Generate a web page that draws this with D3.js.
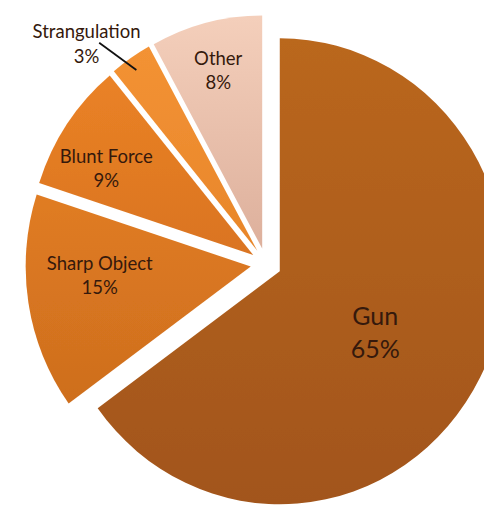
<!DOCTYPE html>
<html>
<head>
<meta charset="utf-8">
<script src="https://cdn.jsdelivr.net/npm/d3@7"></script>
<style>
  html, body { margin: 0; padding: 0; background: #ffffff; }
  svg { display: block; }
</style>
</head>
<body>
<div id="chart"></div>
<script>
// ---- data ----
const categories = ["Gun", "Sharp Object", "Blunt Force", "Strangulation", "Other"];
const values = [65, 15, 9, 3, 8];
const percentLabels = ["65%", "15%", "9%", "3%", "8%"];

// ---- styles / layout (not data) ----
const colorsTop    = ["#BA671F", "#E07C22", "#EA8226", "#F39234", "#F4CFBB"];
const colorsBottom = ["#A2551A", "#CE6E1E", "#DA7420", "#E8862A", "#DDB09C"];
const labelRadius  = [0.50, 0.672, 0.751, 1.168, 0.79];  // fraction of radius
const labelAngle   = [122, 266.7, 299.6, 319.5, 345.7];  // degrees, clockwise from 12 o'clock
const labelSize    = [25, 18.5, 18.5, 18.5, 18.5];

const W = 484, H = 508;
const cx = 266, cy = 264, R = 233, sx = 0.966, explode = 16;

const svg = d3.select("#chart").append("svg")
  .attr("width", W).attr("height", H);

const defs = svg.append("defs");
categories.forEach((c, i) => {
  const g = defs.append("linearGradient").attr("id", "g" + i)
    .attr("x1", 0).attr("y1", 0).attr("x2", 0).attr("y2", 1);
  g.append("stop").attr("offset", "0%").attr("stop-color", colorsTop[i]);
  g.append("stop").attr("offset", "100%").attr("stop-color", colorsBottom[i]);
});
const soft = defs.append("filter").attr("id", "soft")
  .attr("x", "-5%").attr("y", "-5%").attr("width", "110%").attr("height", "110%");
soft.append("feGaussianBlur").attr("stdDeviation", 0.7);

const pie = d3.pie().sort(null).value(d => d);
const arcs = pie(values);
const arc = d3.arc().innerRadius(0).outerRadius(R);

const rad = a => a * Math.PI / 180;
function offset(d) {
  const m = (d.startAngle + d.endAngle) / 2;
  return [explode * Math.sin(m), -explode * Math.cos(m)];
}

const pieG = svg.append("g")
  .attr("transform", `translate(${cx},${cy}) scale(${sx},1)`);

pieG.selectAll("path.slice").data(arcs).enter().append("path")
  .attr("class", "slice")
  .attr("d", arc)
  .attr("transform", d => { const o = offset(d); return `translate(${o[0]},${o[1]})`; })
  .attr("fill", (d, i) => `url(#g${i})`)
  .attr("filter", "url(#soft)");

// map from pie-local (unscaled) coords to screen coords
function toScreen(px, py) { return [cx + sx * px, cy + py]; }

// labels
const labelG = svg.append("g")
  .attr("font-family", "Lato, 'Open Sans', sans-serif")
  .attr("fill", "#35190c")
  .attr("text-anchor", "middle");

arcs.forEach((d, i) => {
  const o = offset(d);
  const a = rad(labelAngle[i]);
  const r = R * labelRadius[i];
  const p = toScreen(o[0] + r * Math.sin(a), o[1] - r * Math.cos(a));
  const fs = labelSize[i];
  const lh = fs * 1.32, capH = fs * 0.72;
  const b1 = p[1] - (lh - capH) / 2;
  const t = labelG.append("text").attr("font-size", fs);
  t.append("tspan").attr("x", p[0]).attr("y", b1).text(categories[i]);
  t.append("tspan").attr("x", p[0]).attr("y", b1 + lh).text(percentLabels[i]);
});

// leader line for the outside label (Strangulation)
(function () {
  const i = 3, d = arcs[i], o = offset(d);
  const a0 = rad(321.8), r0 = R * 1.136;
  const a1 = rad(325.3), r1 = R * 0.944;
  const p0 = toScreen(o[0] + r0 * Math.sin(a0), o[1] - r0 * Math.cos(a0));
  const p1 = toScreen(o[0] + r1 * Math.sin(a1), o[1] - r1 * Math.cos(a1));
  svg.append("line")
    .attr("x1", p0[0]).attr("y1", p0[1]).attr("x2", p1[0]).attr("y2", p1[1])
    .attr("stroke", "#111").attr("stroke-width", 1.8);
})();
</script>
</body>
</html>
